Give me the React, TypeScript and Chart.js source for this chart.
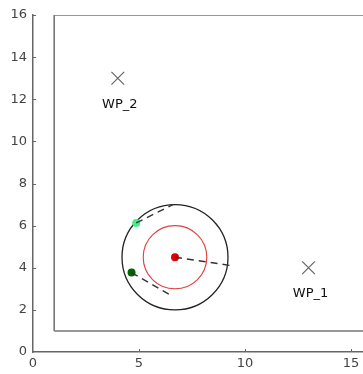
import React, { useEffect, useRef } from "react";
import { Chart, registerables } from "chart.js";

Chart.register(...registerables);

// Arena boundary (data units)
const boundaryX = [1, 1, 16, 16, 1];
const boundaryY = [1, 16, 16, 1, 1];

// Agents: position and heading end points
const agentX = [6.7, 4.87, 4.65];
const agentY = [4.5, 6.13, 3.77];
const agentColors = ["#dd0000", "#44ee88", "#006400"];
const headingEndX = [9.37, 6.6, 6.45];
const headingEndY = [4.1, 7.0, 2.72];

// Range circles around the main agent (radius in data units)
const circleRadii = [2.5, 1.5];
const circleColors = ["#222222", "#e04040"];

// Waypoints
const waypointX = [13, 4];
const waypointY = [4, 13];
const waypointLabels = ["WP_1", "WP_2"];

const FONT = "DejaVu Sans";

export default function App() {
  const ref = useRef<HTMLCanvasElement | null>(null);

  useEffect(() => {
    if (!ref.current) return;

    const circlesPlugin = {
      id: "circles",
      beforeDatasetsDraw(chart: any) {
        const { ctx, scales } = chart;
        const xs = scales.x, ys = scales.y;
        const cx = agentX[0], cy = agentY[0];
        const px = xs.getPixelForValue(cx);
        const py = ys.getPixelForValue(cy);
        ctx.save();
        circleRadii.forEach((r, i) => {
          const rx = xs.getPixelForValue(cx + r) - px;
          const ry = py - ys.getPixelForValue(cy + r);
          ctx.beginPath();
          ctx.ellipse(px, py, rx, ry, 0, 0, Math.PI * 2);
          ctx.strokeStyle = circleColors[i];
          ctx.lineWidth = i === 0 ? 1.3 : 1.1;
          ctx.stroke();
        });
        ctx.restore();
      },
    };

    const labelsPlugin = {
      id: "wpLabels",
      afterDatasetsDraw(chart: any) {
        const { ctx, scales } = chart;
        ctx.save();
        ctx.font = `13px "${FONT}"`;
        ctx.fillStyle = "#111111";
        ctx.textAlign = "center";
        ctx.textBaseline = "middle";
        waypointLabels.forEach((t, i) => {
          const px = scales.x.getPixelForValue(waypointX[i]);
          const py = scales.y.getPixelForValue(waypointY[i]);
          ctx.fillText(t, px + 2, py + 26);
        });
        ctx.restore();
      },
    };

    const innerTicksPlugin = {
      id: "innerTicks",
      afterDraw(chart: any) {
        const { ctx, scales } = chart;
        const xs = scales.x, ys = scales.y;
        ctx.save();
        ctx.strokeStyle = "#666666";
        ctx.lineWidth = 1;
        xs.ticks.forEach((t: any) => {
          if (t.value === 0) return;
          const p = Math.round(xs.getPixelForValue(t.value)) + 0.5;
          ctx.beginPath();
          ctx.moveTo(p, xs.top);
          ctx.lineTo(p, xs.top - 3);
          ctx.stroke();
        });
        ys.ticks.forEach((t: any) => {
          if (t.value === 0) return;
          const p = Math.round(ys.getPixelForValue(t.value)) + 0.5;
          ctx.beginPath();
          ctx.moveTo(ys.right, p);
          ctx.lineTo(ys.right + 3, p);
          ctx.stroke();
        });
        ctx.restore();
      },
    };

    const headingDatasets = agentX.map((x, i) => ({
      type: "line" as const,
      data: [
        { x, y: agentY[i] },
        { x: headingEndX[i], y: headingEndY[i] },
      ],
      borderColor: "#333333",
      borderWidth: 1.4,
      borderDash: [7, 5],
      pointRadius: 0,
      showLine: true,
      fill: false,
    }));

    const chart = new Chart(ref.current, {
      type: "scatter",
      data: {
        datasets: [
          {
            type: "line",
            data: boundaryX.map((x, i) => ({ x, y: boundaryY[i] })),
            borderColor: "#777777",
            borderWidth: 1.6,
            pointRadius: 0,
            showLine: true,
            fill: false,
          } as any,
          ...headingDatasets,
          {
            data: waypointX.map((x, i) => ({ x, y: waypointY[i] })),
            pointStyle: "crossRot",
            pointRadius: 9,
            borderColor: "#666666",
            borderWidth: 1.2,
            backgroundColor: "#666666",
          },
          {
            data: agentX.map((x, i) => ({ x, y: agentY[i] })),
            pointRadius: 4,
            borderWidth: 0,
            backgroundColor: agentColors,
          },
        ],
      },
      options: {
        animation: false,
        responsive: true,
        maintainAspectRatio: false,
        layout: { autoPadding: false, padding: { top: 15, right: 0, left: 0, bottom: 0 } },
        plugins: {
          legend: { display: false },
          tooltip: { enabled: false },
        },
        scales: {
          x: {
            type: "linear",
            bounds: "data",
            min: 0,
            max: 15.57,
            ticks: {
              stepSize: 5,
              includeBounds: false,
              color: "#444444",
              font: { family: FONT, size: 13 },
              padding: 4,
              maxRotation: 0,
            },
            grid: { display: true, drawOnChartArea: false, drawTicks: false },
            border: { display: true, color: "#666666", width: 1.5 },
            afterFit: (s: any) => {
              s.height = 22;
              s.paddingLeft = 0;
              s.paddingRight = 0;
            },
          },
          y: {
            type: "linear",
            min: 0,
            max: 16,
            ticks: {
              stepSize: 2,
              color: "#444444",
              font: { family: FONT, size: 13 },
              padding: 6,
            },
            grid: { display: true, drawOnChartArea: false, drawTicks: false },
            border: { display: true, color: "#666666", width: 1.5 },
            afterFit: (s: any) => {
              s.width = 33;
              s.paddingTop = 0;
              s.paddingBottom = 0;
            },
          },
        },
      } as any,
      plugins: [circlesPlugin, labelsPlugin, innerTicksPlugin],
    });

    return () => chart.destroy();
  }, []);

  return (
    <div style={{ position: "fixed", left: 0, top: 0, width: 363, height: 374, background: "#fff" }}>
      <canvas ref={ref} style={{ display: "block" }} />
    </div>
  );
}
